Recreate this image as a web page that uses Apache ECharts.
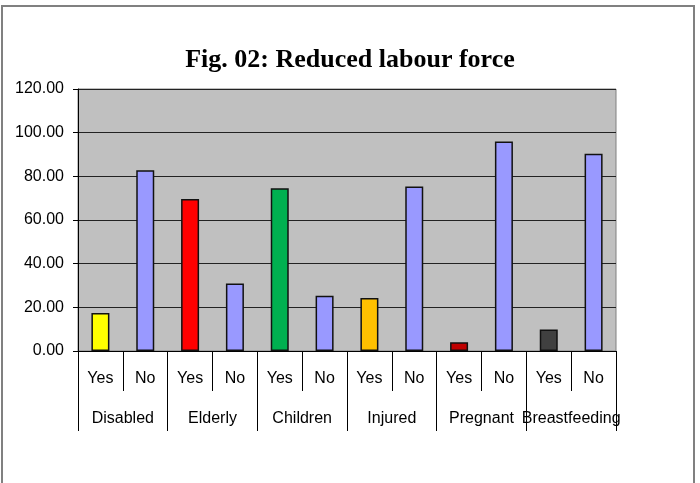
<!DOCTYPE html>
<html>
<head>
<meta charset="utf-8">
<script src="https://cdn.jsdelivr.net/npm/echarts@6/dist/echarts.min.js"></script>
<style>
  html, body { margin: 0; padding: 0; background: #fff; }
  #chart { width: 700px; height: 483px; }
</style>
</head>
<body>
<div id="chart"></div>
<script>
// Groups and answers for the two-level category axis
const groups = ['Disabled', 'Elderly', 'Children', 'Injured', 'Pregnant', 'Breastfeeding'];
const answers = ['Yes', 'No'];
// Percentages per group
const yesValues = [17.4, 69.6, 74.5, 24.3, 4.0, 9.9];
const noValues = [82.8, 30.9, 25.3, 75.4, 96.0, 90.3];
// Colours of the "Yes" bars, one per group; "No" bars share one colour
const yesColors = ['#FFFF00', '#FF0000', '#00B050', '#FFC000', '#C00000', '#404040'];
const noColor = '#9999FF';
// Value axis ticks
const yTicks = [0, 20, 40, 60, 80, 100, 120];

const answerCategories = [];
const barData = [];
groups.forEach((g, i) => {
  answers.forEach((a) => {
    answerCategories.push(a);
    const isYes = a === 'Yes';
    barData.push({
      value: isYes ? yesValues[i] : noValues[i],
      itemStyle: { color: isYes ? yesColors[i] : noColor }
    });
  });
});

const chart = echarts.init(document.getElementById('chart'));
const labelFont = { fontFamily: 'Liberation Sans, Arial, sans-serif', fontSize: 16, color: '#000' };

chart.setOption({
  animation: false,
  backgroundColor: '#fff',
  title: {
    text: 'Fig. 02: Reduced labour force',
    left: 'center',
    top: 42,
    textStyle: {
      fontFamily: 'Liberation Serif, Times New Roman, serif',
      fontWeight: 'bold',
      fontSize: 26,
      color: '#000'
    }
  },
  graphic: [{
    type: 'rect',
    silent: true,
    shape: { x: 2, y: 6, width: 692, height: 520 },
    style: { fill: 'none', stroke: '#808080', lineWidth: 2 }
  }],
  grid: {
    left: 78, right: 84, top: 89, bottom: 132,
    show: true,
    backgroundColor: '#C0C0C0',
    borderColor: '#808080',
    borderWidth: 1
  },
  xAxis: [{
    type: 'category',
    data: answerCategories,
    position: 'bottom',
    offset: 0,
    axisLine: { show: true, lineStyle: { color: '#000', width: 1 } },
    axisTick: { show: true, interval: 0, length: 40, lineStyle: { color: '#000', width: 1 } },
    axisLabel: { interval: 0, margin: 20, ...labelFont },
    splitLine: { show: false }
  }, {
    type: 'category',
    data: groups,
    position: 'bottom',
    offset: 0,
    axisLine: { show: false },
    axisTick: { show: true, interval: 0, length: 80, lineStyle: { color: '#000', width: 1 } },
    axisLabel: { interval: 0, margin: 60, hideOverlap: false, ...labelFont },
    splitLine: { show: false }
  }],
  yAxis: {
    type: 'value',
    min: yTicks[0],
    max: yTicks[yTicks.length - 1],
    interval: yTicks[1] - yTicks[0],
    axisLine: { show: true, lineStyle: { color: '#000', width: 1 } },
    axisTick: { show: true, length: 5, lineStyle: { color: '#000' } },
    axisLabel: { margin: 14, formatter: (v) => v.toFixed(2), ...labelFont },
    splitLine: { show: true, lineStyle: { color: '#222', width: 1 } }
  },
  series: [{
    type: 'bar',
    xAxisIndex: 0,
    data: barData,
    barWidth: 18,
    itemStyle: { borderColor: '#111', borderWidth: 1.5 }
  }]
});
</script>
</body>
</html>
